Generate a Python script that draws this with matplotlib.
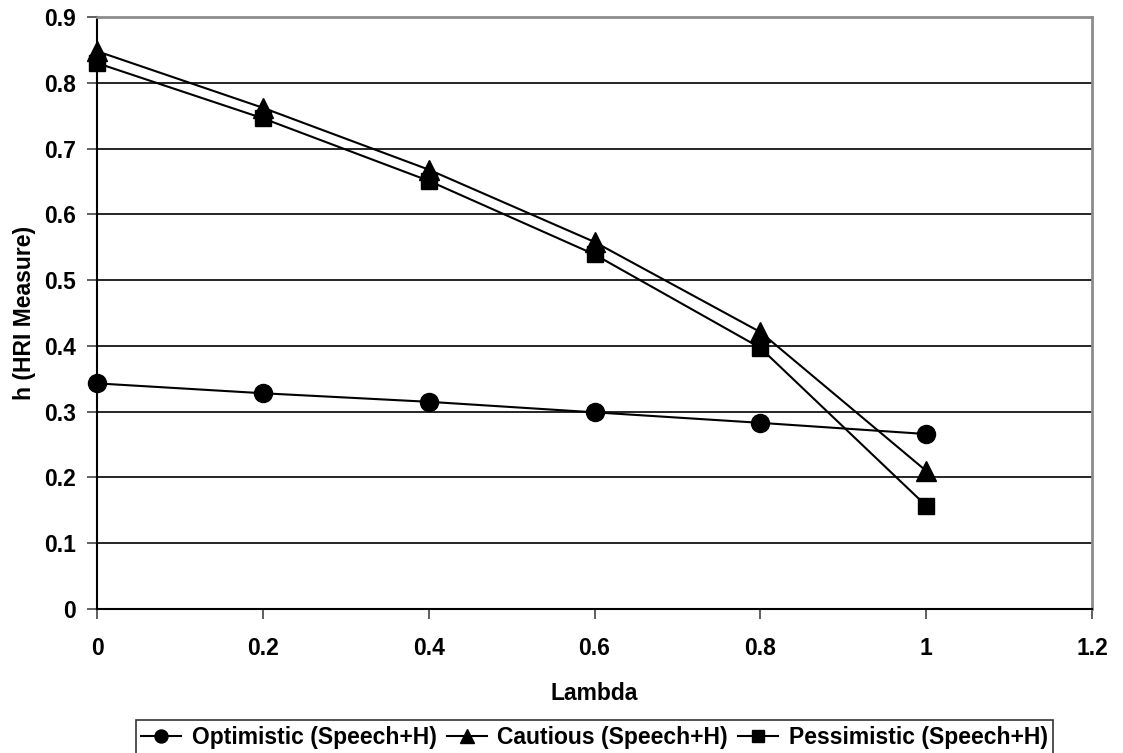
import matplotlib
matplotlib.use("Agg")
import matplotlib.pyplot as plt

plt.rcParams['font.family'] = ['Liberation Sans', 'DejaVu Sans']
plt.rcParams['font.weight'] = 'bold'

lambdas = [0, 0.2, 0.4, 0.6, 0.8, 1.0]
optimistic = [0.343, 0.328, 0.315, 0.299, 0.283, 0.266]
cautious = [0.848, 0.762, 0.668, 0.558, 0.421, 0.210]
pessimistic = [0.830, 0.746, 0.651, 0.539, 0.397, 0.157]

series_labels = ["Optimistic (Speech+H)", "Cautious (Speech+H)", "Pessimistic (Speech+H)"]
xticks = [0, 0.2, 0.4, 0.6, 0.8, 1, 1.2]
xtick_labels = ["0", "0.2", "0.4", "0.6", "0.8", "1", "1.2"]
yticks = [0, 0.1, 0.2, 0.3, 0.4, 0.5, 0.6, 0.7, 0.8, 0.9]
ytick_labels = ["0", "0.1", "0.2", "0.3", "0.4", "0.5", "0.6", "0.7", "0.8", "0.9"]

FS = 16.5

fig = plt.figure(figsize=(11.23, 7.53), dpi=100)
ax = fig.add_axes([97 / 1123, 1 - 609 / 753, (1092 - 97) / 1123, (609 - 17) / 753])

for yv in yticks[1:-1]:
    ax.axhline(yv, color='black', lw=1.2, zorder=1)

ms = 13
ax.plot(lambdas, optimistic, color='black', lw=1.5, marker='o', ms=ms,
        label=series_labels[0], zorder=3, clip_on=False)
ax.plot(lambdas, cautious, color='black', lw=1.5, marker='^', ms=ms + 1,
        label=series_labels[1], zorder=3, clip_on=False)
ax.plot(lambdas, pessimistic, color='black', lw=1.5, marker='s', ms=ms - 1,
        label=series_labels[2], zorder=3, clip_on=False)

ax.set_xlim(0, 1.2)
ax.set_ylim(0, 0.9)
ax.set_xticks(xticks)
ax.set_xticklabels(xtick_labels)
ax.set_yticks(yticks)
ax.set_yticklabels(ytick_labels)

for s in ('top', 'right'):
    ax.spines[s].set_color('#8c8c8c')
    ax.spines[s].set_linewidth(2)
for s in ('left', 'bottom'):
    ax.spines[s].set_color('black')
    ax.spines[s].set_linewidth(1.5)

ax.tick_params(axis='both', direction='out', length=7, width=1.2, color='#444444',
               labelsize=FS)
ax.tick_params(axis='x', pad=13)
ax.tick_params(axis='y', pad=8)
for lab in ax.get_xticklabels() + ax.get_yticklabels():
    lab.set_fontweight('bold')

ax.set_xlabel("Lambda", fontsize=FS, fontweight='bold', labelpad=16)
ax.set_ylabel("h (HRI Measure)", fontsize=FS, fontweight='bold', labelpad=6)

leg = ax.legend(loc='upper center', bbox_to_anchor=(0.5, -0.188), ncol=3,
                frameon=True, fancybox=False, fontsize=FS, handlelength=1.75,
                handletextpad=0.45, columnspacing=0.45, borderpad=0.25,
                markerscale=0.72, borderaxespad=0)
leg.get_frame().set_edgecolor('black')
leg.get_frame().set_linewidth(1.2)
for t in leg.get_texts():
    t.set_fontweight('bold')

fig.savefig("out.png", dpi=100)
